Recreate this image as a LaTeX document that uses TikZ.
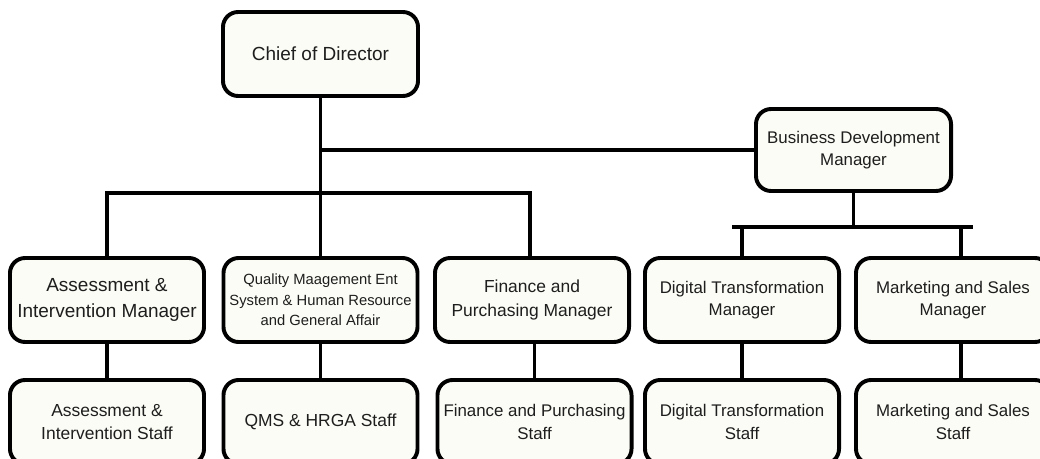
\documentclass[tikz,border=0pt]{standalone}
\usepackage{fontspec}
\setmainfont{Liberation Sans}
\usetikzlibrary{positioning}

\definecolor{boxfill}{RGB}{251,252,245}
\definecolor{textgray}{RGB}{30,30,30}

\newcommand{\bigtxt}{\fontsize{13.5}{19}\selectfont}
\newcommand{\midtxt}{\fontsize{12.4}{16.6}\selectfont}
\newcommand{\smtxt}{\fontsize{12}{16}\selectfont}
\newcommand{\tinytxt}{\fontsize{10.5}{14.5}\selectfont}

\tikzset{
  orgbox/.style={draw, rounded corners=0.38cm, line width=2.8pt, fill=boxfill,
    text=textgray, minimum width=4.85cm, minimum height=2.1cm, align=center, inner sep=1pt},
  link/.style={line width=2.8pt}
}

\begin{document}
\begin{tikzpicture}[x=0.025cm, y=-0.025cm]  % one unit = one pixel of the reference

    \clip (0,0) rectangle (1040,459);

    % top level
    \node[orgbox, minimum width=4.875cm, font=\bigtxt] (chief) at (320.5,54) {Chief of Director};
    \node[orgbox, minimum width=4.875cm, minimum height=2.05cm, font=\smtxt] (bdm) at (853.5,150) {Business Development\\Manager};

    % managers
    \node[orgbox, font=\bigtxt] (assessMgr) at (107,300) {Assessment \&\\Intervention Manager};
    \node[orgbox, font=\tinytxt] (qmMgr) at (320.5,300) {Quality Maagement Ent\\System \& Human Resource\\and General Affair};
    \node[orgbox, font=\midtxt] (financeMgr) at (532,300) {Finance and\\Purchasing Manager};
    \node[orgbox, font=\smtxt] (digitalMgr) at (742,300) {Digital Transformation\\Manager};
    \node[orgbox, font=\smtxt] (marketMgr) at (953,300) {Marketing and Sales\\Manager};

    % staff
    \node[orgbox, font=\midtxt] (assessStaff) at (107,422) {Assessment \&\\Intervention Staff};
    \node[orgbox, font=\midtxt] (qmsStaff) at (320.5,422) {QMS \& HRGA Staff};
    \node[orgbox, font=\smtxt] (financeStaff) at (534.5,422) {Finance and Purchasing\\Staff};
    \node[orgbox, font=\smtxt] (digitalStaff) at (742,422) {Digital Transformation\\Staff};
    \node[orgbox, font=\smtxt] (marketStaff) at (953,422) {Marketing and Sales\\Staff};

    % bars
    \coordinate (leftbar) at (0,193);
    \coordinate (barL) at (732,227);
    \coordinate (barR) at (973,227);

    % chief to managers
    \draw[link] (chief.south) -- (qmMgr.north);
    \draw[link] (chief.south |- bdm.west) -- (bdm.west);
    \draw[link] (assessMgr.north) -- (assessMgr.north |- leftbar) -- ([xshift=-0.05cm]financeMgr.north |- leftbar) -- ([xshift=-0.05cm]financeMgr.north);

    % business development branch
    \draw[link] (bdm.south) -- (bdm.south |- barL);
    \draw[link] (barL) -- (barR);
    \draw[link] (digitalMgr.north |- barL) -- (digitalMgr.north);
    \draw[link] ([xshift=0.2cm]marketMgr.north |- barR) -- ([xshift=0.2cm]marketMgr.north);

    % managers to staff
    \draw[link] (assessMgr) -- (assessStaff);
    \draw[link] (qmMgr) -- (qmsStaff);
    \draw[link] (financeStaff.north) -- (financeStaff.north |- financeMgr.south);
    \draw[link] (digitalMgr) -- (digitalStaff);
    \draw[link] ([xshift=0.2cm]marketMgr.south) -- ([xshift=0.2cm]marketStaff.north);

\end{tikzpicture}
\end{document}
